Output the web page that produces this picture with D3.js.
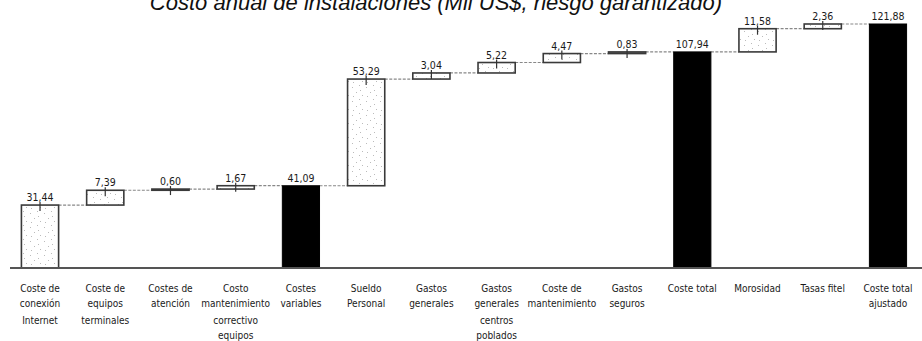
<!DOCTYPE html>
<html>
<head>
<meta charset="utf-8">
<script src="https://cdn.jsdelivr.net/npm/d3@7"></script>
<style>
  html, body { margin: 0; padding: 0; background: #fff; }
  svg { display: block; }
</style>
</head>
<body>
<svg id="chart" width="922" height="341"></svg>
<script>
// Cost breakdown (thousand US$) as a waterfall
const categories = [
  "Coste de conexión Internet",
  "Coste de equipos terminales",
  "Costes de atención",
  "Costo mantenimiento correctivo equipos",
  "Costes variables",
  "Sueldo Personal",
  "Gastos generales",
  "Gastos generales centros poblados",
  "Coste de mantenimiento",
  "Gastos seguros",
  "Coste total",
  "Morosidad",
  "Tasas fitel",
  "Coste total ajustado"
];
const labelLines = [
  ["Coste de", "conexión", "Internet"],
  ["Coste de", "equipos", "terminales"],
  ["Costes de", "atención"],
  ["Costo", "mantenimiento", "correctivo", "equipos"],
  ["Costes", "variables"],
  ["Sueldo", "Personal"],
  ["Gastos", "generales"],
  ["Gastos", "generales", "centros", "poblados"],
  ["Coste de", "mantenimiento"],
  ["Gastos", "seguros"],
  ["Coste total"],
  ["Morosidad"],
  ["Tasas fitel"],
  ["Coste total", "ajustado"]
];
const values = [31.44, 7.39, 0.60, 1.67, 41.09, 53.29, 3.04, 5.22, 4.47, 0.83, 107.94, 11.58, 2.36, 121.88];
const isTotal = [false, false, false, false, true, false, false, false, false, false, true, false, false, true];
const titleText = "Costo anual de instalaciones (Mil US$, riesgo garantizado)";

// Build waterfall segments: totals start at zero, steps stack on the running sum
let running = 0;
const bars = categories.map((c, i) => {
  let y0, y1;
  if (isTotal[i]) { y0 = 0; y1 = values[i]; running = values[i]; }
  else { y0 = running; y1 = running + values[i]; running = y1; }
  return { cat: c, lines: labelLines[i], value: values[i], total: isTotal[i], y0, y1 };
});

const svg = d3.select("#chart");
const W = 922, H = 341;
const condensed = "DejaVu Sans Condensed, Liberation Sans Narrow, Arial Narrow, sans-serif";

const x = d3.scaleBand()
  .domain(categories)
  .range([7.4, 920.6])
  .paddingInner(0.43)
  .paddingOuter(0.215);

const y = d3.scaleLinear()
  .domain([0, 121.88])
  .range([268, 24]);

// Stipple texture for the step bars
const defs = svg.append("defs");
const pat = defs.append("pattern")
  .attr("id", "stipple")
  .attr("patternUnits", "userSpaceOnUse")
  .attr("width", 14).attr("height", 14);
pat.append("rect").attr("width", 14).attr("height", 14).attr("fill", "#fff");
[[2, 3], [9, 1], [6, 8], [12, 11], [3, 12], [10, 6]].forEach(([px, py]) => {
  pat.append("rect").attr("x", px).attr("y", py).attr("width", 1).attr("height", 1).attr("fill", "#bbb");
});

// Title (top partly outside the canvas)
svg.append("text")
  .attr("x", 436).attr("y", 10)
  .attr("text-anchor", "middle")
  .attr("font-family", "Liberation Sans, Arial, sans-serif")
  .attr("font-style", "italic")
  .attr("font-size", 22)
  .attr("fill", "#111")
  .text(titleText);

// Connectors between consecutive bars at the running level
const conn = svg.append("g");
bars.forEach((b, i) => {
  if (i === bars.length - 1) return;
  const level = b.y1;
  conn.append("line")
    .attr("x1", x(b.cat) + x.bandwidth())
    .attr("x2", x(bars[i + 1].cat))
    .attr("y1", y(level)).attr("y2", y(level))
    .attr("stroke", "#888")
    .attr("stroke-width", 1.2)
    .attr("stroke-dasharray", "3,1.5");
});

// Bars
const g = svg.append("g");
g.selectAll("rect.bar")
  .data(bars)
  .join("rect")
  .attr("class", "bar")
  .attr("x", d => x(d.cat))
  .attr("width", x.bandwidth())
  .attr("y", d => y(d.y1))
  .attr("height", d => Math.max(1, y(d.y0) - y(d.y1)))
  .attr("fill", d => d.total ? "#000" : "url(#stipple)")
  .attr("stroke", d => d.total ? "#000" : "#3a3a3a")
  .attr("stroke-width", d => d.total ? 1 : 1.6);

// Small tick marks at the top centre of the step bars
g.selectAll("line.tick")
  .data(bars.filter(d => !d.total))
  .join("line")
  .attr("class", "tick")
  .attr("x1", d => x(d.cat) + x.bandwidth() / 2)
  .attr("x2", d => x(d.cat) + x.bandwidth() / 2)
  .attr("y1", d => y(d.y1) - 3)
  .attr("y2", d => y(d.y1) + 6)
  .attr("stroke", "#333")
  .attr("stroke-width", 1.2);

// Value labels
const fmt = v => d3.format(".2f")(v).replace(".", ",");
g.selectAll("text.val")
  .data(bars)
  .join("text")
  .attr("class", "val")
  .attr("x", d => x(d.cat) + x.bandwidth() / 2)
  .attr("y", d => y(d.y1) - 4)
  .attr("text-anchor", "middle")
  .attr("font-family", condensed)
  .attr("font-size", 10.5)
  .attr("fill", "#1a1a1a")
  .text(d => fmt(d.value));

// Baseline axis
const axis = svg.append("g").attr("transform", `translate(0,${y(0)})`);
axis.call(d3.axisBottom(x).tickSize(0).tickFormat(""));
axis.select(".domain").remove();
axis.append("line")
  .attr("x1", 10).attr("x2", W)
  .attr("y1", 0).attr("y2", 0)
  .attr("stroke", "#555").attr("stroke-width", 2);

// Category labels
const lab = svg.append("g")
  .attr("font-family", condensed)
  .attr("font-size", 10)
  .attr("fill", "#1a1a1a");
bars.forEach(b => {
  const t = lab.append("text")
    .attr("text-anchor", "middle")
    .attr("x", x(b.cat) + x.bandwidth() / 2)
    .attr("y", 292);
  b.lines.forEach((ln, k) => {
    t.append("tspan")
      .attr("x", x(b.cat) + x.bandwidth() / 2)
      .attr("dy", k === 0 ? 0 : (k === 2 ? 17 : 15))
      .text(ln);
  });
});
</script>
</body>
</html>
